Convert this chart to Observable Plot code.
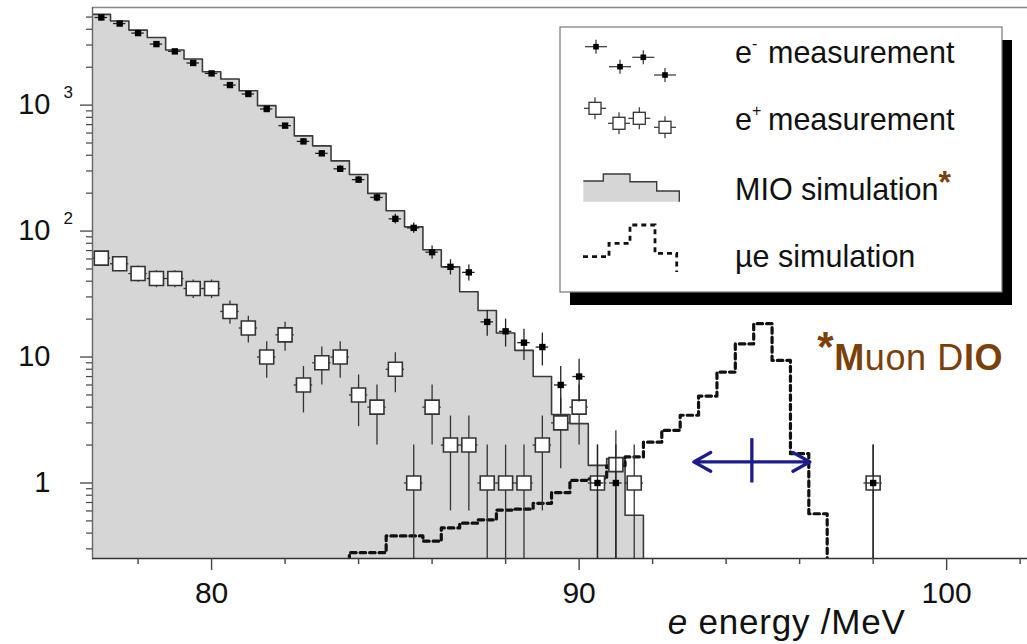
<!DOCTYPE html>
<html>
<head>
<meta charset="utf-8">
<script src="https://cdn.jsdelivr.net/npm/d3@7"></script>
<script src="https://cdn.jsdelivr.net/npm/@observablehq/plot@0.6"></script>
<style>
html, body { margin: 0; padding: 0; background: #fff; }
#chart { position: relative; width: 1027px; height: 644px; }
svg text { white-space: pre; }
</style>
</head>
<body>
<div id="chart"></div>
<script>
// ---------------- data ----------------
const binWidth = 0.5;

// MIO (muon decay-in-orbit) simulation histogram, bin centres (MeV) and counts
const mioCenters = [77,77.5,78,78.5,79,79.5,80,80.5,81,81.5,82,82.5,83,83.5,84,84.5,85,85.5,86,86.5,87,87.5,88,88.5,89,89.5,90,90.5,91,91.5];
const mioCounts  = [5250,4650,3940,3440,2740,2320,1840,1610,1300,990,800,570,475,361,281,199,145,108,71,52,33,23.4,15.5,11.3,7.0,3.5,2.96,1.38,1.56,0.555];

// mu -> e conversion simulation (arbitrary scale), bin centres and heights
const mueCenters = [83.5,84,84.5,85,85.5,86,86.5,87,87.5,88,88.5,89,89.5,90,90.5,91,91.5,92,92.5,93,93.5,94,94.5,95,95.5,96,96.5,97];
const mueCounts  = [0.2,0.28,0.28,0.38,0.38,0.345,0.44,0.48,0.51,0.61,0.62,0.69,0.84,1.05,1.08,1.37,1.61,2.11,2.62,3.45,4.9,7.6,12.7,18.4,9.4,1.71,0.57,0.2];

// e- measurement
const eMinusEnergy = [77,77.5,78,78.5,79,79.5,80,80.5,81,81.5,82,82.5,83,83.5,84,84.5,85,85.5,86,86.5,87,87.5,88,88.5,89,89.5,90,90.5,91,98];
const eMinusCounts = [4960,4440,3730,3050,2670,2160,1785,1443,1225,931,687,515,414,312,256,185,125,106,68,52,47,19,16,13,12,6,7,1,1,1];
const eMinusErr    = [70,67,61,55,52,46,42,38,35,31,26,23,20,18,16,14,11,10,8.2,7.2,6.9,4.4,4,3.6,3.5,2.4,2.6,1,1,1];

// e+ measurement
const ePlusEnergy = [77,77.5,78,78.5,79,79.5,80,80.5,81,81.5,82,82.5,83,83.5,84,84.5,85,85.5,86,86.5,87,87.5,88,88.5,89,89.5,90,90.5,91,91.5,98];
const ePlusCounts = [61,55,46,42,42,35,35,23,17,10,15,6,9,10,5,4,8,1,4,2,2,1,1,1,2,3,4,1,1.4,1,1];
const ePlusErr    = [7.8,7.4,6.8,6.5,6.5,5.9,5.9,4.8,4.1,3.2,3.9,2.4,3,3.2,2.2,2,2.8,1,2,1.4,1.4,1,1,1,1.4,1.7,2,1,1.2,1,1];

// axes
const xTicksMajor = [80, 90, 100];
const xTicksMinor = [78, 82, 84, 86, 88, 92, 94, 96, 98, 102];
const yTicksMajor = [1, 10, 100, 1000];
const yTickBase   = ["1", "10", "10", "10"];
const yTickExp    = ["", "", "2", "3"];
const yTicksMinor = [0.3,0.4,0.5,0.6,0.7,0.8,0.9, 2,3,4,5,6,7,8,9, 20,30,40,50,60,70,80,90, 200,300,400,500,600,700,800,900, 2000,3000,4000,5000];
const xTitle = "e energy /MeV";

// annotations (data units)
const resolution = {center: 94.7, half: 1.58, y: 1.47, yLow: 1.0, yHigh: 2.25};
const dioNote = {x: 96.48, y: 7.83, label: "*Muon DIO"};
const xTitlePos = 92.41;

// legend labels
const legendItems = ["measurement", "measurement", "MIO simulation", "\u00b5e simulation"];

// ---------------- derived tables ----------------
const FLOOR = 0.05;
const xDomain = [76.76, 102.2];
const yDomain = [0.2515, 5955];

function stepRows(centers, counts) {
  const rows = centers.map((c, i) => ({x: c - binWidth / 2, y: counts[i]}));
  rows.push({x: centers[centers.length - 1] + binWidth / 2, y: counts[counts.length - 1]});
  return rows;
}
const mioRows = stepRows(mioCenters, mioCounts);
const mioOutline = mioRows.concat([{x: mioRows[mioRows.length - 1].x, y: FLOOR}]);
const mueRows = stepRows(mueCenters, mueCounts);
const eMinusRows = eMinusEnergy.map((e, i) => ({e, n: eMinusCounts[i], lo: Math.max(eMinusCounts[i] - eMinusErr[i], FLOOR), hi: eMinusCounts[i] + eMinusErr[i]}));
const ePlusRows = ePlusEnergy.map((e, i) => ({e, n: ePlusCounts[i], lo: Math.max(ePlusCounts[i] - ePlusErr[i], FLOOR), hi: ePlusCounts[i] + ePlusErr[i]}));
const expRows = yTicksMajor.map((v, i) => ({v, t: yTickExp[i]})).filter(d => d.t);

const axisInk = "#444";
const blue = "#1c1c8e";
const brown = "#7b4008";
const font = "'Liberation Sans', Arial, Helvetica, sans-serif";

const svg = Plot.plot({
  width: 1027,
  height: 644,
  marginLeft: 92,
  marginRight: 0,
  marginTop: 7,
  marginBottom: 86,
  x: {domain: xDomain, label: null},
  y: {type: "log", domain: yDomain, label: null},
  style: {background: "white", fontFamily: font, color: "#111"},
  marks: [
    Plot.areaY(mioRows, {x: "x", y1: () => FLOOR, y2: "y", curve: "step-after", fill: "#d6d6d6", clip: true}),
    Plot.line(mioOutline, {x: "x", y: "y", curve: "step-after", stroke: "#3a3a3a", strokeWidth: 1.6, clip: true}),
    Plot.line(mueRows, {x: "x", y: "y", curve: "step-after", stroke: "#111", strokeWidth: 3.2, strokeDasharray: "5.5,4", clip: true}),
    // e+ measurement
    Plot.ruleX(ePlusRows, {x: "e", y1: "lo", y2: "hi", stroke: "#333", strokeWidth: 1.3, clip: true}),
    Plot.ruleY(ePlusRows, {y: "n", x1: d => d.e - binWidth / 2, x2: d => d.e + binWidth / 2, stroke: "#333", strokeWidth: 1.3, clip: true}),
    Plot.dot(ePlusRows, {x: "e", y: "n", symbol: "square", r: 7.9, fill: "white", stroke: "#333", strokeWidth: 1.6, clip: true}),
    // e- measurement
    Plot.ruleX(eMinusRows, {x: "e", y1: "lo", y2: "hi", stroke: "#222", strokeWidth: 1.3, clip: true}),
    Plot.ruleY(eMinusRows, {y: "n", x1: d => d.e - 0.17, x2: d => d.e + 0.17, stroke: "#222", strokeWidth: 1.3, clip: true}),
    Plot.dot(eMinusRows, {x: "e", y: "n", symbol: "square", r: 3.6, fill: "#000", clip: true}),
    // frame lines
    Plot.ruleY([yDomain[1]], {stroke: "#888", strokeWidth: 1.5}),
    Plot.ruleX([xDomain[0]], {stroke: "#666", strokeWidth: 1.4}),
    Plot.ruleY([yDomain[0]], {stroke: "#333", strokeWidth: 1.6}),
    // axes
    Plot.axisX(xTicksMajor, {anchor: "bottom", tickSize: 12, tickPadding: 11, fontSize: 30, stroke: axisInk, strokeWidth: 1.4, fill: "#111", tickFormat: d => String(d)}),
    Plot.axisX(xTicksMinor, {anchor: "bottom", tickSize: 6, stroke: axisInk, strokeWidth: 1.4, tickFormat: () => ""}),
    Plot.axisY(yTicksMajor, {anchor: "left", tickSize: 12, tickPadding: 30, fontSize: 29, stroke: axisInk, strokeWidth: 1.3, fill: "#111", tickFormat: d => yTickBase[yTicksMajor.indexOf(d)]}),
    Plot.axisY(yTicksMinor, {anchor: "left", tickSize: 6, stroke: axisInk, strokeWidth: 1.2, tickFormat: () => ""}),
    Plot.text(expRows, {y: "v", text: "t", frameAnchor: "left", dx: -29, dy: -13, textAnchor: "start", fontSize: 17, fill: "#111"}),
    Plot.text([xTitle], {x: () => xTitlePos, frameAnchor: "bottom", dy: 75, text: d => d, textAnchor: "start", lineAnchor: "bottom", fontSize: 35, fill: "#111"}),
    // resolution arrow
    Plot.arrow([{x1: resolution.center, x2: resolution.center - resolution.half}, {x1: resolution.center, x2: resolution.center + resolution.half}],
      {x1: "x1", x2: "x2", y1: () => resolution.y, y2: () => resolution.y, stroke: blue, strokeWidth: 3.3, headLength: 10, headAngle: 58}),
    Plot.ruleX([resolution], {x: "center", y1: "yLow", y2: "yHigh", stroke: blue, strokeWidth: 3.3}),
    // Muon DIO note
    Plot.text([dioNote], {x: "x", y: "y", text: "label", textAnchor: "start", lineAnchor: "bottom", fontSize: 36, fill: brown})
  ]
});

document.getElementById("chart").appendChild(svg);

// rich text post-processing
function richText(sel, parts) {
  sel.text(null);
  parts.forEach(p => {
    const t = sel.append("tspan").text(p.text);
    if (p.weight) t.attr("font-weight", p.weight);
    if (p.style) t.attr("font-style", p.style);
    if (p.dy) t.attr("dy", p.dy);
    if (p.size) t.attr("font-size", p.size);
  });
}
const root = d3.select(svg);
function findText(content) {
  return root.selectAll("text").filter(function () { return this.textContent === content; });
}
const xt = findText(xTitle);
xt.attr("letter-spacing", "0.8px");
richText(xt, [{text: "e", style: "italic"}, {text: " energy /MeV"}]);
const dt = findText(dioNote.label);
dt.attr("letter-spacing", "0.6px");
richText(dt, [{text: "*", weight: "bold", dy: -9, size: 42}, {text: "M", weight: "bold", dy: 9}, {text: "uon D"}, {text: "IO", weight: "bold"}]);

// ---------------- legend ----------------
const lg = root.append("g").attr("font-family", font).attr("font-size", 30.5).attr("fill", "#111").attr("text-anchor", "start");
lg.append("rect").attr("x", 570).attr("y", 40).attr("width", 442).attr("height", 265).attr("fill", "#000");
lg.append("rect").attr("x", 560).attr("y", 27).attr("width", 442).attr("height", 265).attr("fill", "#fff").attr("stroke", "#777").attr("stroke-width", 1.2);

// e- symbol
[[596, 46.7], [620, 66.7], [643.3, 57.3], [665, 75]].forEach(([cx, cy]) => {
  lg.append("line").attr("x1", cx - 11).attr("x2", cx + 11).attr("y1", cy).attr("y2", cy).attr("stroke", "#333").attr("stroke-width", 1.2);
  lg.append("line").attr("x1", cx).attr("x2", cx).attr("y1", cy - 7).attr("y2", cy + 7).attr("stroke", "#333").attr("stroke-width", 1.2);
  lg.append("rect").attr("x", cx - 2.8).attr("y", cy - 2.8).attr("width", 5.6).attr("height", 5.6).attr("fill", "#000");
});
// e+ symbol
[[595, 108.3], [619, 123.3], [639.3, 118.3], [665, 127.3]].forEach(([cx, cy]) => {
  lg.append("line").attr("x1", cx - 11).attr("x2", cx + 11).attr("y1", cy).attr("y2", cy).attr("stroke", "#333").attr("stroke-width", 1.2);
  lg.append("line").attr("x1", cx).attr("x2", cx).attr("y1", cy - 11).attr("y2", cy + 11).attr("stroke", "#333").attr("stroke-width", 1.2);
  lg.append("rect").attr("x", cx - 6).attr("y", cy - 6).attr("width", 12).attr("height", 12).attr("fill", "#fff").attr("stroke", "#333").attr("stroke-width", 1.3);
});
// MIO symbol
lg.append("path").attr("d", "M583.3,201.7 V181 H603.3 V174 H630 V181.7 H656.7 V191 H679.3 V201.7 Z").attr("fill", "#d6d6d6");
lg.append("path").attr("d", "M583.3,181 H603.3 V174 H630 V181.7 H656.7 V191 H679.3 V201.7").attr("fill", "none").attr("stroke", "#3a3a3a").attr("stroke-width", 1.4);
// mu-e symbol
lg.append("path").attr("d", "M583,256.7 H609 V243.3 H630 V225 H655 V253.3 H676.7 V272").attr("fill", "none").attr("stroke", "#111").attr("stroke-width", 2.8).attr("stroke-dasharray", "5,4");

// legend texts
const t1 = lg.append("text").attr("x", 735).attr("y", 63.3);
t1.append("tspan").text("e");
t1.append("tspan").attr("font-size", 16).attr("dy", -14).text("-");
lg.append("text").attr("x", 768).attr("y", 63.3).text(legendItems[0]);
const t2 = lg.append("text").attr("x", 735).attr("y", 130);
t2.append("tspan").text("e");
t2.append("tspan").attr("font-size", 16).attr("dy", -14).text("+");
lg.append("text").attr("x", 768).attr("y", 130).text(legendItems[1]);
const t3 = lg.append("text").attr("x", 735).attr("y", 200).text(legendItems[2]);
t3.append("tspan").attr("fill", brown).attr("font-weight", "bold").attr("font-size", 32).attr("dy", -7).text("*");
lg.append("text").attr("x", 735).attr("y", 266.7).text(legendItems[3]);
</script>
</body>
</html>
